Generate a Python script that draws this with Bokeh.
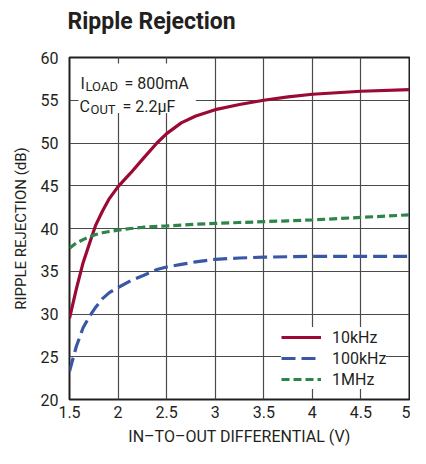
from bokeh.plotting import figure
from bokeh.models import (Range1d, FixedTicker, Label, BoxAnnotation, Legend, LegendItem, Title)
from bokeh.embed import file_html
from bokeh.resources import INLINE

# ---- data ----
x_v = [1.5, 1.57, 1.64, 1.71, 1.77, 1.84, 1.91, 2.0, 2.13, 2.26, 2.4, 2.5, 2.65, 2.8, 3.0,
       3.25, 3.5, 3.75, 4.0, 4.5, 5.0]
rr_10k = [29.5, 32.9, 36.0, 38.4, 40.4, 42.05, 43.5, 44.9, 46.5, 48.2, 50.0, 51.1, 52.35, 53.15,
          53.9, 54.5, 55.0, 55.4, 55.7, 56.05, 56.25]
rr_100k = [23.3, 26.2, 28.4, 29.8, 30.8, 31.8, 32.5, 33.1, 33.9, 34.5, 35.2, 35.5, 35.8, 36.1,
           36.4, 36.55, 36.65, 36.7, 36.75, 36.75, 36.75]
rr_1m = [37.7, 38.3, 38.7, 39.05, 39.3, 39.5, 39.65, 39.8, 40.0, 40.15, 40.25, 40.3, 40.4, 40.5,
         40.6, 40.7, 40.8, 40.9, 41.0, 41.3, 41.6]
series_names = ["10kHz", "100kHz", "1MHz"]
x_ticks = [1.5, 2, 2.5, 3, 3.5, 4, 4.5, 5]
x_tick_labels = ["1.5", "2", "2.5", "3", "3.5", "4", "4.5", "5"]
y_ticks = [20, 25, 30, 35, 40, 45, 50, 55, 60]
title_text = "Ripple Rejection"

FONT = "Roboto"
INK = "#231f20"

p = figure(width=410, height=448, output_backend="svg", toolbar_location=None, title=None,
           x_range=Range1d(1.5, 5), y_range=Range1d(20, 60),
           min_border_left=69, min_border_right=1, min_border_top=56, min_border_bottom=49)

# spacer (closest to the frame) then the real title above it
p.add_layout(Title(text=" ", text_font_size="6px"), "above")
p.add_layout(Title(text=title_text, text_font=FONT, text_font_size="23px",
                   text_font_style="bold", text_color=INK, offset=-2), "above")

p.outline_line_color = INK
p.outline_line_width = 2

for ax in (p.xaxis, p.yaxis):
    ax.axis_line_color = None
    ax.major_tick_line_color = None
    ax.minor_tick_line_color = None
    ax.major_tick_out = 0
    ax.major_tick_in = 0
    ax.minor_tick_out = 0
    ax.major_label_text_font = FONT
    ax.major_label_text_font_size = "16px"
    ax.major_label_text_color = INK
    ax.axis_label_text_font = FONT
    ax.axis_label_text_font_style = "normal"
    ax.axis_label_text_color = INK

p.xaxis.axis_label_text_font_size = "16px"
p.yaxis.axis_label_text_font_size = "15px"
p.xaxis.ticker = FixedTicker(ticks=x_ticks)
p.xaxis.major_label_overrides = {t: l for t, l in zip(x_ticks, x_tick_labels)}
p.yaxis.ticker = FixedTicker(ticks=y_ticks)
p.xaxis.axis_label = "IN\u2013TO\u2013OUT DIFFERENTIAL (V)"
p.yaxis.axis_label = "RIPPLE REJECTION (dB)"
p.xaxis.major_label_standoff = 6
p.yaxis.major_label_standoff = 11
p.xaxis.axis_label_standoff = 6
p.yaxis.axis_label_standoff = 8

p.grid.grid_line_color = "#4a4a4a"
p.grid.grid_line_width = 1.2

r1 = p.line(x_v, rr_10k, line_color="#9b0a35", line_width=3.2)
r2 = p.line(x_v, rr_100k, line_color="#3a57a5", line_width=3.2, line_dash="14 6")
r3 = p.line(x_v, rr_1m, line_color="#2e8449", line_width=3.2, line_dash="8 4")

legend = Legend(items=[LegendItem(label=series_names[0], renderers=[r1]),
                       LegendItem(label=series_names[1], renderers=[r2]),
                       LegendItem(label=series_names[2], renderers=[r3])],
                location=(212, 10), border_line_color=None, background_fill_color="white",
                background_fill_alpha=1.0, padding=5, margin=0, spacing=1,
                glyph_width=40, glyph_height=20, label_height=20, label_standoff=11,
                label_text_font=FONT, label_text_font_size="16px", label_text_color=INK)
p.add_layout(legend, "center")

# white box behind the condition text
p.add_layout(BoxAnnotation(left=1.593, right=2.8, top=59.3, bottom=53.5,
                           fill_color="white", fill_alpha=1.0, line_color=None))

def lab(xo, y, text, size):
    p.add_layout(Label(x=1.5, y=y, x_offset=xo, text=text, text_font=FONT,
                       text_font_size=size, text_color=INK,
                       text_baseline="alphabetic", text_align="left"))

lab(11, 56.93, "I", "16px")
lab(16, 56.62, "LOAD", "13px")
lab(55, 56.93, "= 800mA", "16px")
lab(10, 54.29, "C", "16px")
lab(21, 53.94, "OUT", "13px")
lab(53, 54.29, "= 2.2\u00b5F", "16px")

open("out.html", "w").write(file_html(p, INLINE))
